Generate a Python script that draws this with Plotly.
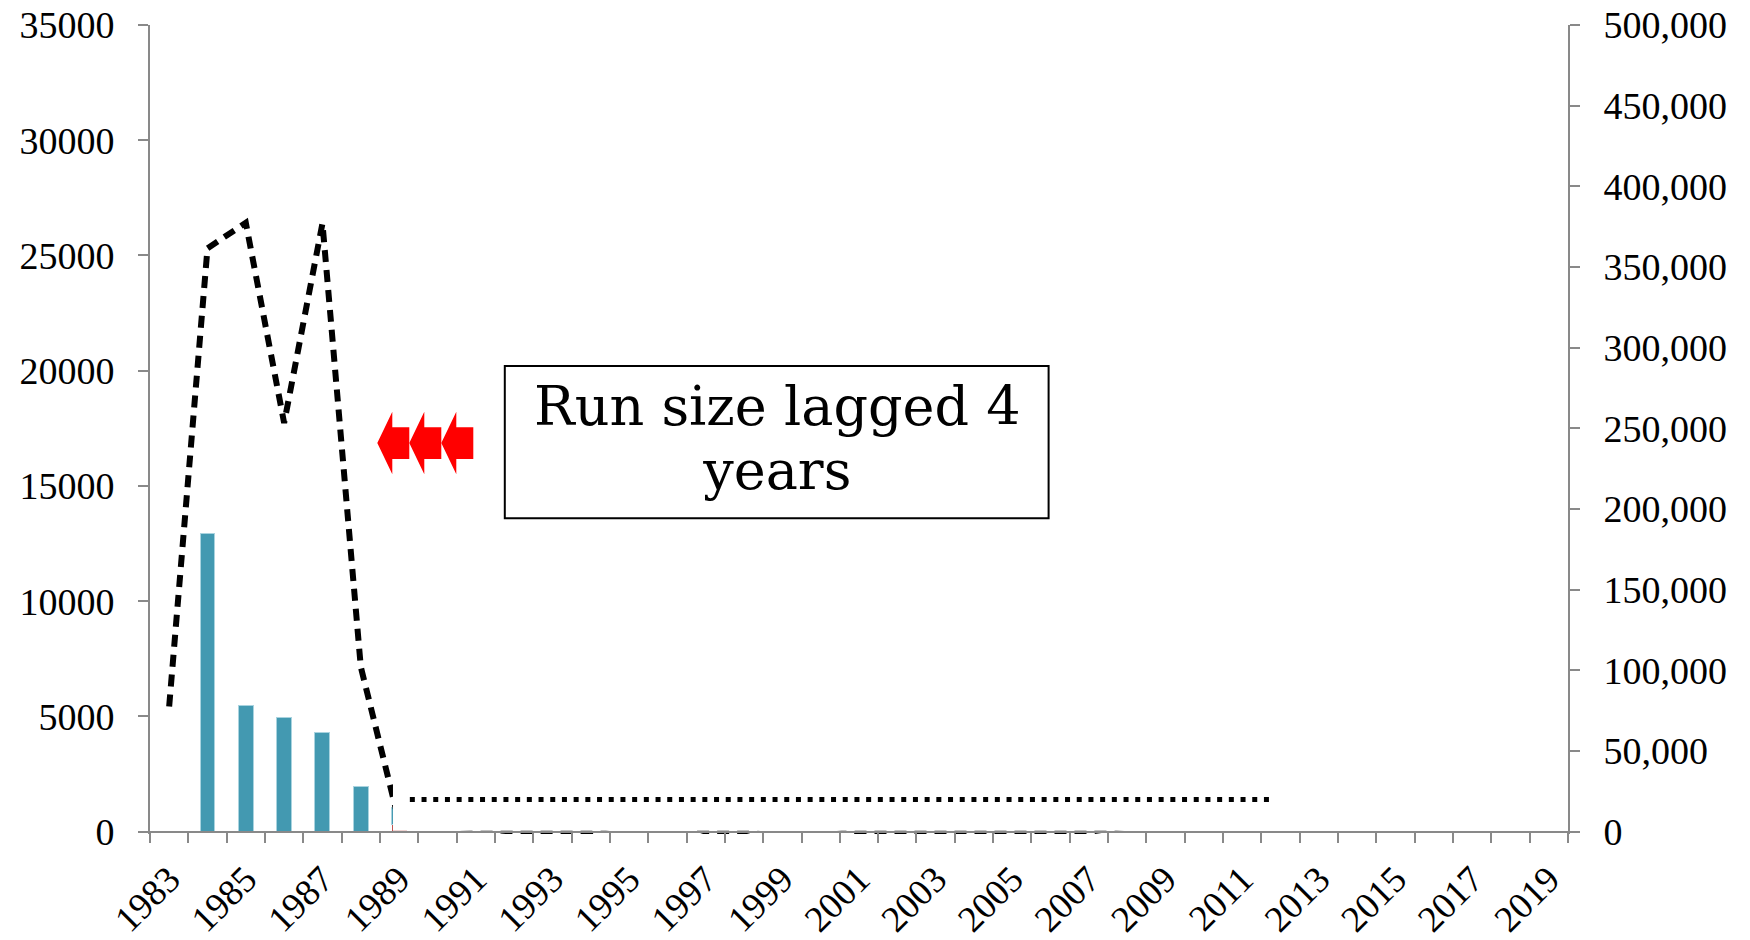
import plotly.graph_objects as go

# ---------------- data ----------------
run_years = list(range(1983, 2012))
run_size = [77600, 361600, 377400, 253300, 377100, 102200, 6000, 4000, 2500,
            0, 0, 0, 6000, 8000, 0, 0, 7000, 5200,
            0, 0, 0, 0, 0, 0, 0, 3200, 4000, 4500, 4000]

bar_years = [1984, 1985, 1986, 1987, 1988, 1989]
count_blue = [12950, 5480, 4950, 4310, 1950, 730]
count_red = [0, 0, 0, 0, 0, 330]

goal_level = 20000
goal_span = (1989.28, 2011.78)

label_years = list(range(1983, 2020, 2))
boundaries = [y + 0.5 for y in range(1982, 2020)]
left_ticks = list(range(0, 35001, 5000))
right_ticks = list(range(0, 500001, 50000))

box_lines = ["Run size lagged 4", "years"]

# ---------------- geometry helpers (pixels -> paper) ----------------
W, H = 1750, 940
ML, MR, MT, MB = 150, 182, 25, 106
PW, PH = W - ML - MR, H - MT - MB
LEFT_MIN, LEFT_MAX = -100, 35000
RIGHT_MAX = 500000
RIGHT_MIN = LEFT_MIN / LEFT_MAX * RIGHT_MAX


def px(x):
    return (x - ML) / PW


def py(y):
    return (H - MB - y) / PH


FONT = "Liberation Serif"
BOX_FONT = "DejaVu Serif"
GRAY = "#898989"

fig = go.Figure()

fig.add_trace(go.Bar(x=bar_years, y=count_red, width=0.39,
                     marker=dict(color="#C0504D", line=dict(width=0)),
                     yaxis="y", showlegend=False))
fig.add_trace(go.Bar(x=bar_years, y=count_blue, width=0.39,
                     marker=dict(color="#4399B1", line=dict(color="#A9D3DF", width=1)),
                     yaxis="y", showlegend=False))
fig.add_trace(go.Scatter(x=run_years, y=run_size, mode="lines", yaxis="y2",
                         line=dict(color="black", width=6, dash="12px,8px"),
                         showlegend=False))

shapes = []
# white cover over the later years
shapes.append(dict(type="rect", xref="x", yref="y", x0=1988.84, x1=2019.45,
                   y0=40, y1=LEFT_MAX, fillcolor="white", line=dict(width=0),
                   layer="above"))
# dotted goal line
shapes.append(dict(type="line", xref="x", yref="y2", x0=goal_span[0], x1=goal_span[1],
                   y0=goal_level, y1=goal_level,
                   line=dict(color="black", width=5, dash="5px,6.7px"), layer="above"))
# text box
shapes.append(dict(type="rect", xref="paper", yref="paper",
                   x0=px(504.8), x1=px(1048.6), y0=py(518.3), y1=py(366),
                   fillcolor="white", line=dict(color="black", width=2), layer="above"))
# red arrows
for i in range(3):
    tx = 377.3 + 32 * i
    pts = [(tx, 443), (tx + 15, 411.7), (tx + 15, 427.3), (tx + 32, 427.3),
           (tx + 32, 459), (tx + 15, 459), (tx + 15, 474.3)]
    path = "M " + " L ".join(f"{px(a):.5f},{py(b):.5f}" for a, b in pts) + " Z"
    shapes.append(dict(type="path", xref="paper", yref="paper", path=path,
                       fillcolor="#FF0000", line=dict(width=0), layer="above"))

box_text = "<br>".join(f'<span style="font-size:54px">{t}</span>' for t in box_lines)
annotations = [
    dict(text=box_text, x=px(777), y=py(438), xref="paper", yref="paper",
         showarrow=False, font=dict(family=BOX_FONT, size=49.5, color="black"),
         xanchor="center", yanchor="middle", align="center"),
]

axis_common = dict(automargin=False, showgrid=False, zeroline=False,
                   showline=True, linecolor=GRAY, linewidth=2)

fig.update_layout(
    width=W, height=H, autosize=False,
    margin=dict(l=ML, r=MR, t=MT, b=MB, pad=0),
    paper_bgcolor="white", plot_bgcolor="white",
    barmode="stack", showlegend=False,
    font=dict(family=FONT, size=38, color="black"),
    shapes=shapes, annotations=annotations,
    xaxis=dict(type="linear", range=[1982.5, 2019.5],
               tickmode="array", tickvals=label_years, ticktext=[str(y) for y in label_years],
               tickangle=-45, ticks="outside", ticklen=10, tickcolor="rgba(0,0,0,0)",
               minor=dict(tickmode="array", tickvals=boundaries, ticks="outside",
                          ticklen=10, tickwidth=2, tickcolor=GRAY),
               anchor="free", position=(0 - LEFT_MIN) / (LEFT_MAX - LEFT_MIN),
               tickfont=dict(family=FONT, size=37, color="black"), **axis_common),
    yaxis=dict(range=[LEFT_MIN, LEFT_MAX], tickmode="array", tickvals=left_ticks,
               tickformat="d", ticks="outside", ticklen=10, tickwidth=2, tickcolor=GRAY,
               ticklabelstandoff=16, tickfont=dict(family=FONT, size=38, color="black"),
               **axis_common),
    yaxis2=dict(range=[RIGHT_MIN, RIGHT_MAX], overlaying="y", side="right",
                tickmode="array", tickvals=right_ticks, tickformat=",d",
                ticks="outside", ticklen=10, tickwidth=2, tickcolor=GRAY,
                ticklabelstandoff=16, tickfont=dict(family=FONT, size=38, color="black"),
                **axis_common),
)

fig.write_html(
    "out.html",
    config={"displayModeBar": False},
    post_script="document.body.style.margin='0';document.body.style.overflow='hidden';",
)
